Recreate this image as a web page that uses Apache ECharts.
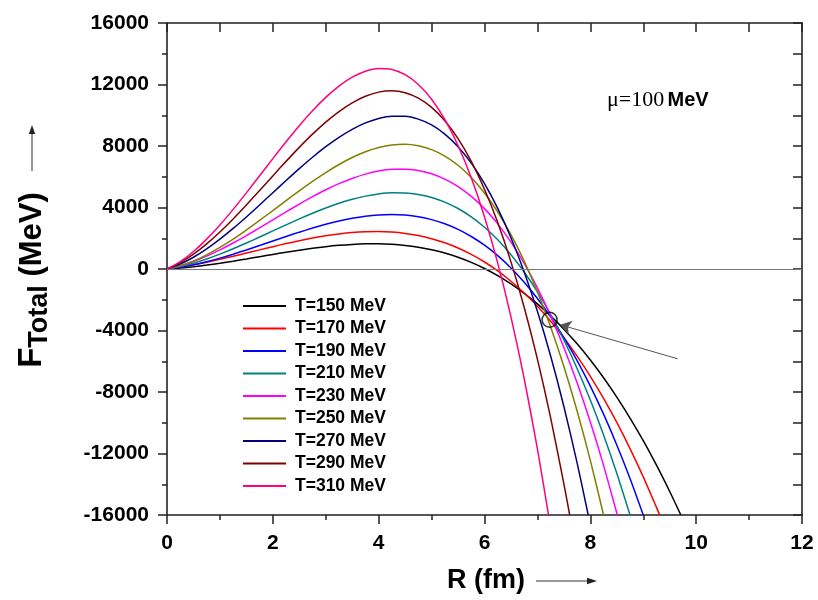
<!DOCTYPE html>
<html>
<head>
<meta charset="utf-8">
<script src="https://cdn.jsdelivr.net/npm/echarts@6/dist/echarts.min.js"></script>
<style>html,body{margin:0;padding:0;background:#fff}#c{width:818px;height:600px}</style>
</head>
<body>
<div id="c"></div>
<script>
// Radius grid (fm), step 0.25; the last value of every series sits at its own end radius
const rGrid = [0,0.25,0.5,0.75,1,1.25,1.5,1.75,2,2.25,2.5,2.75,3,3.25,3.5,3.75,4,4.25,4.5,4.75,5,5.25,5.5,5.75,6,6.25,6.5,6.75,7,7.25,7.5,7.75,8,8.25,8.5,8.75,9,9.25,9.5];
const seriesNames = ['T=150 MeV','T=170 MeV','T=190 MeV','T=210 MeV','T=230 MeV','T=250 MeV','T=270 MeV','T=290 MeV','T=310 MeV'];
const seriesColors = ['#000000','#ff0000','#0000ff','#008080','#ff00ff','#808000','#000080','#800000','#ff0080'];
const rEnd = [9.71, 9.31, 9.00, 8.75, 8.51, 8.25, 7.96, 7.61, 7.21];
const f150 = [0,62,148,254,376,510,652,799,945,1088,1222,1345,1451,1538,1601,1636,1639,1606,1533,1416,1251,1035,762,429,33,-432,-968,-1580,-2272,-3049,-3913,-4869,-5921,-7073,-8328,-9692,-11168,-12759,-14471,-16000];
const f170 = [0,122,271,441,629,829,1036,1245,1452,1652,1839,2010,2158,2280,2370,2423,2435,2401,2315,2174,1971,1703,1364,950,456,-124,-794,-1559,-2424,-3393,-4472,-5666,-6978,-8416,-9982,-11681,-13520,-15502,-16000];
const f190 = [0,114,275,474,707,964,1241,1529,1822,2113,2396,2662,2906,3120,3298,3432,3515,3542,3505,3396,3210,2939,2575,2114,1547,868,69,-856,-1914,-3112,-4457,-5955,-7615,-9442,-11443,-13626,-16000];
const f210 = [0,159,379,651,965,1314,1688,2078,2476,2873,3260,3628,3969,4274,4534,4739,4882,4954,4946,4848,4653,4350,3933,3391,2717,1900,933,-193,-1488,-2959,-4616,-6468,-8523,-10790,-13278,-16000];
const f230 = [0,204,485,834,1239,1689,2172,2678,3196,3713,4220,4705,5156,5549,5890,6170,6370,6481,6490,6401,6190,5847,5360,4725,3928,2934,1750,362,-1229,-3047,-5100,-7397,-9950,-12770,-16000];
const f250 = [0,207,519,923,1403,1945,2535,3158,3801,4448,5086,5699,6274,6797,7252,7625,7902,8070,8112,8015,7765,7347,6747,5950,4942,3708,2235,508,-1488,-3767,-6343,-9231,-12445,-16000];
const f270 = [0,322,765,1310,1940,2638,3386,4167,4963,5757,6532,7270,7953,8565,9087,9502,9794,9943,9934,9748,9368,8776,7956,6889,5558,3947,2036,-190,-2750,-5661,-8941,-12606,-16000];
const f290 = [0,409,961,1634,2407,3257,4163,5104,6056,7000,7911,8770,9554,10241,10809,11238,11504,11587,11464,11114,10515,9644,8480,7003,5189,3017,465,-2488,-5865,-9688,-13977,-16000];
const f310 = [0,484,1141,1945,2866,3878,4953,6062,7179,8275,9323,10295,11163,11899,12477,12867,13042,12975,12638,12002,11043,9727,8033,5928,3388,382,-3115,-7133,-11698,-16000];
const allF = [f150,f170,f190,f210,f230,f250,f270,f290,f310];
// Annotation: crossing circle and pointer arrow (data coordinates)
const crossPoint = [7.23, -3300];
const arrowFrom = [9.65, -5840];
const arrowTo = [7.43, -3626];
// Axis ticks
const xTicks = {min:0, max:12, interval:2};
const yTicks = {min:-16000, max:16000, interval:4000};

const chart = echarts.init(document.getElementById('c'), null, {renderer:'canvas'});
const FONT = 'Liberation Sans, Arial, sans-serif';

const lineSeries = allF.map((f, k) => ({
  name: seriesNames[k],
  type: 'line',
  smooth: 0.25,
  symbol: 'none',
  lineStyle: {color: seriesColors[k], width: 1.5},
  itemStyle: {color: seriesColors[k]},
  data: f.map((v, i) => [i < f.length - 1 ? rGrid[i] : rEnd[k], v]),
  z: 3
}));
lineSeries[0].markLine = {
  silent: true, symbol: 'none', animation: false,
  label: {show: false},
  lineStyle: {color: '#7a7a7a', type: 'solid', width: 1},
  data: [{yAxis: 0}]
};

const axisCommon = {
  type: 'value', splitLine: {show: false},
  axisLine: {show: true, onZero: false, lineStyle: {color: '#222', width: 1.6}},
};

chart.setOption({
  animation: false,
  backgroundColor: '#fff',
  grid: {left: 167, right: 16, top: 23, bottom: 85},
  legend: {
    data: seriesNames, orient: 'vertical', left: 238, top: 292,
    icon: 'rect', itemWidth: 43, itemHeight: 2, itemGap: 4.5,
    textStyle: {fontSize: 17.5, fontWeight: 'bold', fontFamily: FONT, color: '#000', lineHeight: 17.5, padding: [0,0,0,4]}
  },
  xAxis: [
    Object.assign({}, axisCommon, {
      position: 'bottom', min: xTicks.min, max: xTicks.max, interval: xTicks.interval,
      axisTick: {show: true, inside: false, length: 9, lineStyle: {color: '#222', width: 1.5}},
      minorTick: {show: true, splitNumber: 2, length: 5, lineStyle: {color: '#222', width: 1.5}},
      axisLabel: {margin: 18, fontSize: 21, fontWeight: 'bold', fontFamily: FONT, color: '#000'}
    }),
    Object.assign({}, axisCommon, {
      position: 'top', min: xTicks.min, max: xTicks.max, interval: xTicks.interval,
      axisTick: {show: true, inside: true, length: 9, lineStyle: {color: '#222', width: 1.5}},
      minorTick: {show: true, splitNumber: 2, length: 9, lineStyle: {color: '#222', width: 1.5}},
      axisLabel: {show: false}
    })
  ],
  yAxis: [
    Object.assign({}, axisCommon, {
      position: 'left', min: yTicks.min, max: yTicks.max, interval: yTicks.interval,
      axisTick: {show: true, inside: false, length: 9, lineStyle: {color: '#222', width: 1.5}},
      minorTick: {show: true, splitNumber: 2, length: 5, lineStyle: {color: '#222', width: 1.5}},
      axisLabel: {margin: 18, fontSize: 21, fontWeight: 'bold', fontFamily: FONT, color: '#000', formatter: v => String(v)}
    }),
    Object.assign({}, axisCommon, {
      position: 'right', min: yTicks.min, max: yTicks.max, interval: yTicks.interval,
      axisTick: {show: true, inside: true, length: 9, lineStyle: {color: '#222', width: 1.5}},
      minorTick: {show: true, splitNumber: 2, length: 9, lineStyle: {color: '#222', width: 1.5}},
      axisLabel: {show: false}
    })
  ],
  series: lineSeries.concat([{
    type: 'scatter', name: 'crossing',
    symbol: 'circle', symbolSize: 15,
    itemStyle: {color: 'rgba(0,0,0,0)', borderColor: '#000', borderWidth: 1.5},
    data: [crossPoint], z: 5,
    markLine: {
      silent: true, animation: false,
      symbol: ['none', 'arrow'], symbolSize: 11,
      label: {show: false},
      lineStyle: {color: '#555', type: 'solid', width: 1},
      itemStyle: {color: '#111'},
      data: [[{coord: arrowFrom}, {coord: arrowTo}]]
    }
  }]),
  graphic: [
    {type: 'text', x: 32, y: 280, rotation: Math.PI / 2, z: 10,
     style: {text: '{f|F}{s|Total}{m| (MeV)}', align: 'center', verticalAlign: 'middle',
       rich: {
         f: {fontSize: 33, fontWeight: 'bold', fontFamily: FONT, fill: '#000'},
         s: {fontSize: 27, fontWeight: 'bold', fontFamily: FONT, fill: '#000', padding: [15, 0, 0, 0]},
         m: {fontSize: 31, fontWeight: 'bold', fontFamily: FONT, fill: '#000'}
       }}},
    {type: 'line', shape: {x1: 32, y1: 171, x2: 32, y2: 133}, style: {stroke: '#333', lineWidth: 1}},
    {type: 'polygon', shape: {points: [[32, 125], [28.8, 134], [35.2, 134]]}, style: {fill: '#222'}},
    {type: 'text', x: 486, y: 581, z: 10,
     style: {text: 'R (fm)', align: 'center', verticalAlign: 'middle', fontSize: 27, fontWeight: 'bold', fontFamily: FONT, fill: '#000'}},
    {type: 'line', shape: {x1: 536, y1: 581, x2: 588, y2: 581}, style: {stroke: '#333', lineWidth: 1}},
    {type: 'polygon', shape: {points: [[597, 581], [587, 577.8], [587, 584.2]]}, style: {fill: '#222'}},
    {type: 'text', x: 607, y: 100, z: 10,
     style: {text: '{a|\u03bc=100} {b|MeV}', align: 'left', verticalAlign: 'middle',
       rich: {
         a: {fontSize: 22, fontFamily: 'Liberation Serif, Times New Roman, serif', fill: '#000'},
         b: {fontSize: 20, fontWeight: 'bold', fontFamily: FONT, fill: '#000'}
       }}}
  ]
});
</script>
</body>
</html>
